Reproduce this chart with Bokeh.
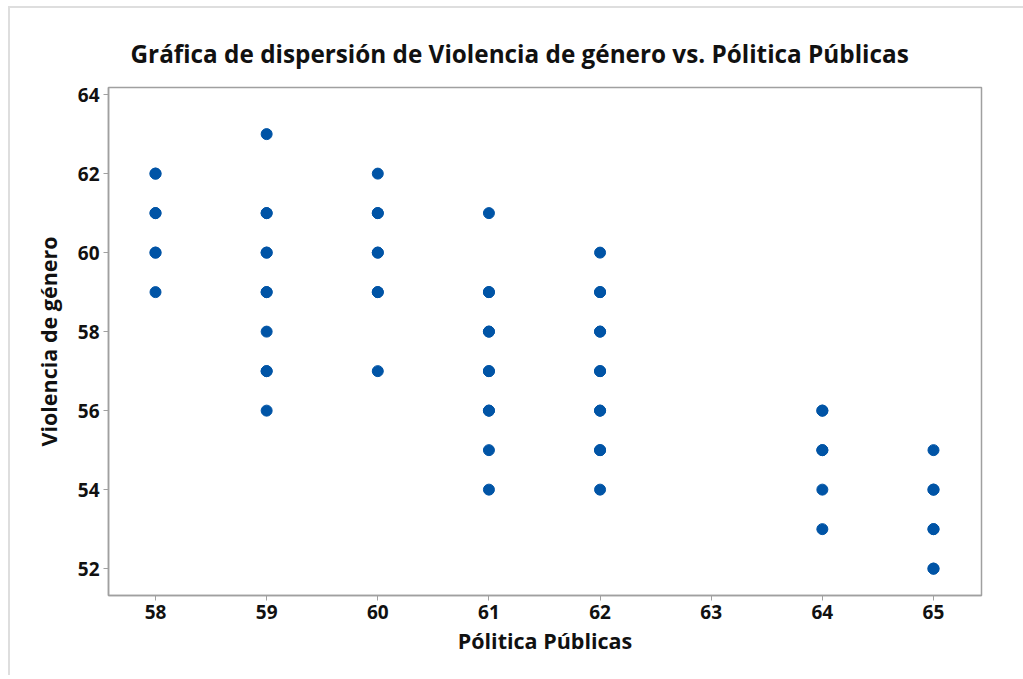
from bokeh.plotting import figure
from bokeh.models import Range1d, FixedTicker, ColumnDataSource
from bokeh.embed import file_html
from bokeh.resources import INLINE

# Data (duplicates included where points look heavier)
politica = [58, 58, 58, 58, 58, 58, 58,
            59, 59, 59, 59, 59, 59, 59, 59, 59, 59, 59,
            60, 60, 60, 60, 60, 60, 60, 60,
            61, 61, 61, 61, 61, 61, 61, 61, 61, 61, 61,
            62, 62, 62, 62, 62, 62, 62, 62, 62, 62, 62, 62,
            64, 64, 64, 64, 64, 64,
            65, 65, 65, 65, 65, 65, 65]
violencia = [62, 62, 61, 61, 60, 60, 59,
             63, 61, 61, 60, 60, 59, 59, 58, 57, 57, 56,
             62, 61, 61, 60, 60, 59, 59, 57,
             61, 59, 59, 58, 58, 57, 57, 56, 56, 55, 54,
             60, 59, 59, 58, 58, 57, 57, 56, 56, 55, 55, 54,
             56, 56, 55, 55, 54, 53,
             55, 54, 54, 53, 53, 52, 52]

x_ticks = [58, 59, 60, 61, 62, 63, 64, 65]
y_ticks = [52, 54, 56, 58, 60, 62, 64]

title_text = "Gráfica de dispersión de Violencia de género vs. Pólitica Públicas"
x_label = "Pólitica Públicas"
y_label = "Violencia de género"

FONT = "Open Sans"
AXIS_COLOR = "#a0a0a0"

p = figure(width=1015, height=669, output_backend="svg", toolbar_location=None,
           x_range=Range1d(57.577, 65.432), y_range=Range1d(51.32, 64.18),
           min_border_left=98, min_border_right=44, min_border_top=79,
           min_border_bottom=82)
p.styles = {"border-left": "2px solid #dedede", "border-top": "2px solid #dedede",
            "margin-left": "8px", "margin-top": "6px"}

p.title.text = title_text
p.title.align = "left"
p.title.text_font = FONT
p.title.text_font_size = "24.3px"
p.title.text_font_style = "bold"
p.title.text_color = "#111111"
p.title.offset = 22
p.title.standoff = 35

src = ColumnDataSource(dict(x=politica, y=violencia))
p.scatter("x", "y", source=src, size=11, fill_color="#0054A6", line_color="#0054A6")

p.grid.visible = False
p.outline_line_color = AXIS_COLOR
p.outline_line_width = 1.5

p.xaxis.ticker = FixedTicker(ticks=x_ticks)
p.yaxis.ticker = FixedTicker(ticks=y_ticks)
for ax in (p.xaxis, p.yaxis):
    ax.axis_line_color = AXIS_COLOR
    ax.axis_line_width = 1.5
    ax.major_tick_line_color = AXIS_COLOR
    ax.major_tick_in = 0
    ax.major_tick_out = 5
    ax.minor_tick_line_color = None
    ax.major_label_text_font = FONT
    ax.major_label_text_font_size = "19px"
    ax.major_label_text_font_style = "bold"
    ax.major_label_text_color = "#111111"
    ax.axis_label_text_font = FONT
    ax.axis_label_text_font_size = "21.5px"
    ax.axis_label_text_font_style = "bold"
    ax.axis_label_text_color = "#111111"

p.xaxis.axis_label = x_label
p.yaxis.axis_label = y_label
p.xaxis.major_label_standoff = 4
p.yaxis.major_label_standoff = 4
p.xaxis.axis_label_standoff = 4
p.yaxis.axis_label_standoff = 12

open("out.html", "w").write(file_html(p, INLINE))
